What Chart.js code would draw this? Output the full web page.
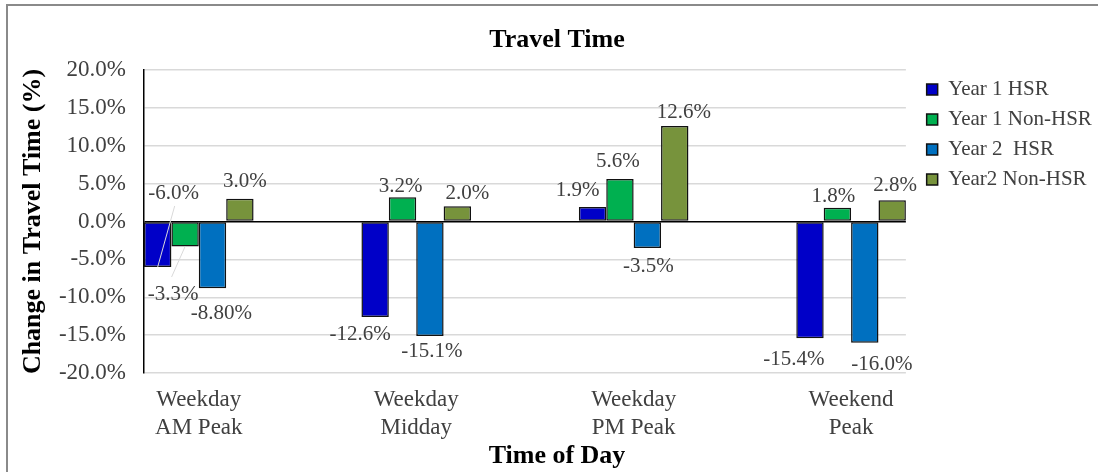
<!DOCTYPE html>
<html>
<head>
<meta charset="utf-8">
<title>Travel Time</title>
<script src="https://cdn.jsdelivr.net/npm/chart.js@4.4.1/dist/chart.umd.min.js"></script>
<style>
  html, body { margin: 0; padding: 0; background: #fff; }
  #wrap { position: relative; width: 1098px; height: 472px; overflow: hidden; }
  #frame { position: absolute; left: 6px; top: 4px; right: 0; bottom: 0;
           border-left: 2px solid #8a8a8a; border-top: 2px solid #8a8a8a; pointer-events: none; }
  canvas { position: absolute; left: 0; top: 0; }
</style>
</head>
<body>
<div id="wrap">
  <canvas id="chart" width="1098" height="472"></canvas>
  <div id="frame"></div>
</div>
<script>
// ---- data ----
const periods = [['Weekday', 'AM Peak'], ['Weekday', 'Midday'], ['Weekday', 'PM Peak'], ['Weekend', 'Peak']];
const seriesNames = ['Year 1 HSR', 'Year 1 Non-HSR', 'Year 2  HSR', 'Year2 Non-HSR'];
const year1Hsr    = [-6.0, -12.6,  1.9, -15.4];
const year1NonHsr = [-3.3,   3.2,  5.6,   1.8];
const year2Hsr    = [-8.8, -15.1, -3.5, -16.0];
const year2NonHsr = [ 3.0,   2.0, 12.6,   2.8];
const yTicks = [-20, -15, -10, -5, 0, 5, 10, 15, 20];
// decimals shown in each value label
const year1HsrDecimals    = [1, 1, 1, 1];
const year1NonHsrDecimals = [1, 1, 1, 1];
const year2HsrDecimals    = [2, 1, 1, 1];
const year2NonHsrDecimals = [1, 1, 1, 1];

// ---- styling ----
const FONT = '"Liberation Serif", "Times New Roman", serif';
const TEXT = '#404040';
const colors = ['#0000C8', '#00B050', '#0070C0', '#77933C'];
const groupShare = 0.504;          // share of each period slot taken by its bar group
// value label position relative to the bar end, [dx, dy] in px
const labelShift = [
  [[16, -73], [-15, 18], [-15, -17], [-16, 21]],
  [[-12, 48], [-2, -11], [-2, -18], [-4, -11]],
  [[9, 25],   [2, 16],   [1, 18],   [17, 22]],
  [[5, -17],  [10, -13], [9, -14],  [3, -15]]
];
// leader lines from the bar end for labels moved away from their bar
const leaders = { '0-0': [17, -61], '1-0': [-13.5, 30.5] };

// legend sizing so the plot ends where the legend block begins
const legendFont = 21, legendBox = 11, legendPad = 9, plotRight = 902;
const meas = document.createElement('canvas').getContext('2d');
meas.font = legendFont + 'px ' + FONT;
const legendTextW = Math.max(...seriesNames.map(s => meas.measureText(s).width));
const legendW = legendPad + legendBox + legendFont / 2 + legendTextW + 10;
const rightGap = Math.max(0, 1098 - legendW - plotRight);

const pct = v => Number(v).toFixed(1) + '%';

function series(i, values, decimals) {
  return {
    label: seriesNames[i],
    data: values.map((v, k) => ({ x: k, y: v })),
    decimals: decimals,
    backgroundColor: colors[i],
    borderColor: '#111',
    borderWidth: 1.5,
    borderSkipped: false,
    categoryPercentage: groupShare,
    barPercentage: 1
  };
}

const valueLabels = {
  id: 'valueLabels',
  afterDatasetsDraw(chart) {
    const ctx = chart.ctx;
    ctx.save();
    chart.data.datasets.forEach((ds, di) => {
      const meta = chart.getDatasetMeta(di);
      meta.data.forEach((bar, i) => {
        const v = ds.data[i].y;
        const lead = leaders[di + '-' + i];
        if (lead) {
          ctx.strokeStyle = '#d9d9d9';
          ctx.lineWidth = 1;
          ctx.beginPath();
          ctx.moveTo(bar.x, bar.y);
          ctx.lineTo(bar.x + lead[0], bar.y + lead[1]);
          ctx.stroke();
        }
        const [dx, dy] = labelShift[di][i];
        ctx.font = '21px ' + FONT;
        ctx.fillStyle = TEXT;
        ctx.textAlign = 'center';
        ctx.textBaseline = 'middle';
        ctx.fillText(v.toFixed(ds.decimals[i]) + '%', bar.x + dx, bar.y + dy);
      });
    });
    ctx.restore();
  }
};

new Chart(document.getElementById('chart'), {
  type: 'bar',
  data: {
    datasets: [
      series(0, year1Hsr, year1HsrDecimals),
      series(1, year1NonHsr, year1NonHsrDecimals),
      series(2, year2Hsr, year2HsrDecimals),
      series(3, year2NonHsr, year2NonHsrDecimals)
    ]
  },
  options: {
    responsive: false,
    animation: false,
    devicePixelRatio: 1,
    layout: { padding: { left: 16, right: 0, top: 0, bottom: 0 } },
    scales: {
      x: {
        type: 'linear',
        offset: false,
        bounds: 'data',
        min: -groupShare / 2,
        max: periods.length - 1 + groupShare / 2,
        afterBuildTicks: s => { s.ticks = periods.map((p, i) => ({ value: i })); },
        ticks: {
          callback: v => periods[v],
          font: { family: FONT, size: 23, lineHeight: '28px' },
          color: TEXT,
          padding: 13,
          maxRotation: 0,
          autoSkip: false
        },
        grid: { display: false, drawTicks: false },
        border: { display: false },
        afterFit: s => { s.height = 70; }
      },
      y: {
        min: -20,
        max: 20,
        afterBuildTicks: s => { s.ticks = yTicks.map(v => ({ value: v })); },
        ticks: {
          callback: pct,
          font: { family: FONT, size: 23 },
          color: TEXT,
          padding: 18
        },
        grid: {
          color: c => (c.tick && c.tick.value === 0) ? '#000' : '#d9d9d9',
          lineWidth: 1.5,
          drawTicks: false
        },
        border: { display: true, color: '#000', width: 1.5 },
        title: {
          display: true,
          text: 'Change in Travel Time (%)',
          font: { family: FONT, size: 26, weight: 'bold', lineHeight: 1.2 },
          color: '#000',
          padding: { top: 1.5, bottom: 0 }
        },
        afterFit: s => { s.width = 128; }
      },
      gap: {
        type: 'linear',
        position: 'right',
        display: true,
        grid: { display: false, drawTicks: false },
        border: { display: false },
        ticks: { display: false },
        afterFit: s => { s.width = rightGap; }
      }
    },
    plugins: {
      title: {
        display: true,
        text: 'Travel Time',
        font: { family: FONT, size: 26, weight: 'bold', lineHeight: 1.2 },
        color: '#000',
        padding: { top: 25, bottom: 13.8 }
      },
      subtitle: {
        display: true,
        position: 'bottom',
        text: 'Time of Day',
        font: { family: FONT, size: 26, weight: 'bold', lineHeight: 1 },
        color: '#000',
        padding: { top: 0, bottom: 3 }
      },
      legend: {
        position: 'right',
        align: 'start',
        fullSize: false,
        labels: {
          boxWidth: legendBox,
          boxHeight: legendBox,
          padding: legendPad,
          font: { family: FONT, size: legendFont },
          color: TEXT
        }
      },
      tooltip: { enabled: false }
    }
  },
  plugins: [valueLabels]
});
</script>
</body>
</html>
